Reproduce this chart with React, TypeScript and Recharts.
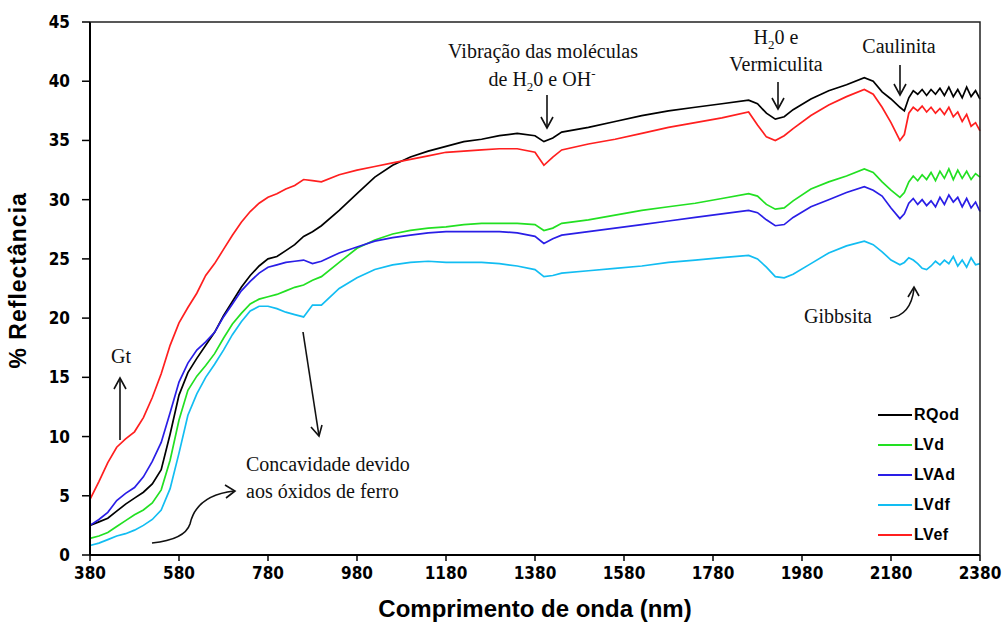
import { LineChart, Line, XAxis, YAxis } from "recharts";

document.body.style.margin = "0";

const wavelengths = [
  380, 400, 420, 440, 460, 480, 500, 520, 540, 560, 580, 600, 620, 640, 660, 680, 700, 720, 740, 760,
  780, 800, 820, 840, 860, 880, 900, 940, 980, 1020, 1060, 1100, 1140, 1180, 1220, 1260, 1300, 1340,
  1380, 1400, 1420, 1440, 1500, 1560, 1620, 1680, 1740, 1800, 1860, 1880, 1900, 1920, 1940, 1960,
  2000, 2040, 2080, 2120, 2140, 2160, 2180, 2200, 2210, 2220, 2230, 2240, 2250, 2260, 2270, 2280,
  2290, 2300, 2310, 2320, 2330, 2340, 2350, 2360, 2370, 2380,
];

const rqod = [
  2.5, 2.8, 3.1, 3.7, 4.3, 4.8, 5.3, 6.0, 7.2, 10.2, 13.5, 15.4, 16.6, 17.7, 18.8, 20.2, 21.4, 22.6, 23.6, 24.4,
  25.0, 25.2, 25.7, 26.2, 26.9, 27.3, 27.8, 29.1, 30.5, 31.9, 32.9, 33.6, 34.1, 34.5, 34.9, 35.1, 35.4, 35.6,
  35.4, 34.9, 35.2, 35.7, 36.1, 36.6, 37.1, 37.5, 37.8, 38.1, 38.4, 38.1, 37.3, 36.8, 37.0, 37.6,
  38.5, 39.2, 39.7, 40.3, 40.0, 39.1, 38.5, 37.8, 37.5, 38.6, 39.2, 38.9, 39.3, 38.8, 39.3, 38.9,
  39.4, 38.8, 39.5, 38.7, 39.3, 38.6, 39.5, 38.7, 39.2, 38.5,
];

const lvd = [
  1.4, 1.6, 1.9, 2.4, 2.9, 3.4, 3.8, 4.4, 5.5, 8.0, 11.4, 13.9, 15.1, 16.0, 17.0, 18.3, 19.5, 20.4, 21.2, 21.6,
  21.8, 22.0, 22.3, 22.6, 22.8, 23.2, 23.5, 24.7, 25.9, 26.6, 27.1, 27.4, 27.6, 27.7, 27.9, 28.0, 28.0, 28.0,
  27.9, 27.4, 27.6, 28.0, 28.3, 28.7, 29.1, 29.4, 29.7, 30.1, 30.5, 30.3, 29.6, 29.2, 29.3, 29.9,
  30.9, 31.5, 32.0, 32.6, 32.3, 31.5, 30.8, 30.2, 30.6, 31.5, 32.0, 31.6, 32.1, 31.7, 32.3, 31.6,
  32.4, 31.8, 32.6, 31.7, 32.5, 31.8, 32.4, 31.7, 32.2, 31.9,
];

const lvad = [
  2.5, 3.0, 3.6, 4.6, 5.2, 5.7, 6.6, 7.9, 9.5, 12.0, 14.6, 16.2, 17.3, 18.0, 18.8, 20.1, 21.2, 22.3, 23.1, 23.8,
  24.3, 24.5, 24.7, 24.8, 24.9, 24.6, 24.8, 25.5, 26.0, 26.5, 26.8, 27.0, 27.2, 27.3, 27.3, 27.3, 27.3, 27.2,
  26.9, 26.3, 26.7, 27.0, 27.3, 27.6, 27.9, 28.2, 28.5, 28.8, 29.1, 28.9, 28.3, 27.8, 27.9, 28.5,
  29.4, 30.0, 30.6, 31.1, 30.8, 30.3, 29.3, 28.4, 28.8, 29.7, 30.1, 29.6, 30.0, 29.5, 29.9, 29.4,
  30.2, 29.6, 30.4, 29.8, 30.2, 29.4, 30.1, 29.3, 29.8, 29.0,
];

const lvdf = [
  0.8, 1.0, 1.3, 1.6, 1.8, 2.1, 2.5, 3.0, 3.8, 5.6, 8.6, 11.8, 13.6, 15.0, 16.1, 17.3, 18.6, 19.7, 20.6, 21.0,
  21.0, 20.8, 20.5, 20.3, 20.1, 21.1, 21.1, 22.5, 23.4, 24.1, 24.5, 24.7, 24.8, 24.7, 24.7, 24.7, 24.6, 24.4,
  24.1, 23.5, 23.6, 23.8, 24.0, 24.2, 24.4, 24.7, 24.9, 25.1, 25.3, 25.0, 24.3, 23.5, 23.4, 23.7,
  24.6, 25.5, 26.1, 26.5, 26.2, 25.6, 24.9, 24.5, 24.7, 25.1, 24.9, 24.6, 24.2, 24.1, 24.4, 24.8,
  24.5, 24.9, 24.6, 25.2, 24.4, 24.9, 24.3, 25.1, 24.5, 24.6,
];

const lvef = [
  4.7, 6.2, 7.8, 9.1, 9.8, 10.4, 11.6, 13.3, 15.3, 17.7, 19.6, 20.9, 22.1, 23.6, 24.6, 25.8, 27.0, 28.1, 29.0, 29.7,
  30.2, 30.5, 30.9, 31.2, 31.7, 31.6, 31.5, 32.1, 32.5, 32.8, 33.1, 33.4, 33.7, 34.0, 34.1, 34.2, 34.3, 34.3,
  34.0, 32.9, 33.6, 34.2, 34.7, 35.1, 35.6, 36.1, 36.5, 36.9, 37.4, 36.3, 35.3, 35.0, 35.4, 36.0,
  37.1, 38.0, 38.7, 39.3, 38.9, 37.8, 36.5, 35.0, 35.5, 37.3, 37.8, 37.5, 37.9, 37.4, 37.8, 37.3,
  37.7, 37.2, 37.8, 37.0, 37.4, 36.6, 37.2, 36.2, 36.5, 35.8,
];

const xTicks = [380, 580, 780, 980, 1180, 1380, 1580, 1780, 1980, 2180, 2380];
const yTicks = [0, 5, 10, 15, 20, 25, 30, 35, 40, 45];

const series = [
  { key: "RQod", color: "#000000" },
  { key: "LVd", color: "#22e022" },
  { key: "LVAd", color: "#2a1ee6" },
  { key: "LVdf", color: "#12bdf2" },
  { key: "LVef", color: "#ff1f1f" },
];

const data = wavelengths.map((w, i) => ({
  nm: w,
  RQod: rqod[i],
  LVd: lvd[i],
  LVAd: lvad[i],
  LVdf: lvdf[i],
  LVef: lvef[i],
}));

const tickStyle = {
  fill: "#000",
  fontSize: 17,
  fontWeight: 700,
  fontFamily: "'Liberation Sans Narrow', 'DejaVu Sans Condensed', Arial, sans-serif",
};

const sans = "'Liberation Sans', Arial, sans-serif";
const serif = "'Liberation Serif', 'DejaVu Serif', serif";

const LegendBox = () => (
  <div
    style={{
      position: "absolute",
      left: 878,
      top: 400,
      fontFamily: sans,
      fontWeight: 700,
      fontSize: 16,
      color: "#000",
    }}
  >
    {series.map((s) => (
      <div key={s.key} style={{ display: "flex", alignItems: "center", height: 30 }}>
        <span style={{ display: "inline-block", width: 34, height: 2, background: s.color }} />
        <span style={{ marginLeft: 2, letterSpacing: 0.5 }}>{s.key}</span>
      </div>
    ))}
  </div>
);

function Arrow({ d, head }: { d: string; head: string }) {
  return (
    <g fill="none" stroke="#111" strokeWidth={1.6}>
      <path d={d} />
      <path d={head} />
    </g>
  );
}

export default function App() {
  return (
    <div style={{ position: "relative", width: 1008, height: 626, background: "#fff" }}>
      <LineChart width={1008} height={626} data={data} margin={{ top: 22, right: 28, bottom: 21, left: 40 }}>
        <XAxis
          dataKey="nm"
          type="number"
          domain={[380, 2380]}
          ticks={xTicks}
          interval={0}
          height={50}
          tick={tickStyle}
          tickSize={6}
          tickMargin={6}
          axisLine={{ stroke: "#000", strokeWidth: 2 }}
          tickLine={{ stroke: "#000", strokeWidth: 1.5 }}
          label={{
            value: "Comprimento de onda (nm)",
            position: "insideBottom",
            offset: -12,
            style: { fill: "#000", fontSize: 24, fontWeight: 700, fontFamily: sans },
          }}
        />
        <YAxis
          type="number"
          domain={[0, 45]}
          ticks={yTicks}
          interval={0}
          width={50}
          tick={tickStyle}
          tickSize={8}
          tickMargin={12}
          axisLine={{ stroke: "#000", strokeWidth: 2 }}
          tickLine={{ stroke: "#000", strokeWidth: 1.5 }}
          label={{
            value: "% Reflectância",
            angle: -90,
            position: "insideLeft",
            dx: -27,
            dy: 80,
            style: { fill: "#000", fontSize: 23, fontWeight: 700, letterSpacing: 1, fontFamily: sans },
          }}
        />
        {series.map((s) => (
          <Line
            key={s.key}
            type="linear"
            dataKey={s.key}
            stroke={s.color}
            strokeWidth={1.7}
            dot={false}
            isAnimationActive={false}
          />
        ))}
      </LineChart>

      <LegendBox />

      <svg
        width={1008}
        height={626}
        style={{ position: "absolute", left: 0, top: 0, pointerEvents: "none" }}
      >
        {/* moldura superior e direita */}
        <path d="M90,22 L980,22 L980,555" fill="none" stroke="#222" strokeWidth={1.5} />

        <g fontFamily={serif} fontSize={20} fill="#111" textAnchor="middle">
          <text x={543} y={58}>Vibração  das moléculas</text>
          <text x={542} y={86}>
            de H<tspan fontSize={13} dy={5}>2</tspan>
            <tspan dy={-5}>0 e OH</tspan>
            <tspan fontSize={13} dy={-8}>-</tspan>
          </text>
          <text x={776} y={44}>
            H<tspan fontSize={13} dy={5}>2</tspan>
            <tspan dy={-5}>0 e</tspan>
          </text>
          <text x={776} y={71}>Vermiculita</text>
          <text x={899} y={53}>Caulinita</text>
          <text x={121} y={363}>Gt</text>
          <text x={838} y={323}>Gibbsita</text>
          <text x={246} y={471} textAnchor="start">Concavidade devido</text>
          <text x={246} y={498} textAnchor="start">aos óxidos de ferro</text>
        </g>

        <Arrow d="M547,95 L547,128" head="M541,117 L547,128 L553,117" />
        <Arrow d="M778,82 L778,109" head="M772,98 L778,109 L784,98" />
        <Arrow d="M900,65 L900,95" head="M894,84 L900,95 L906,84" />
        <Arrow d="M120,440 L120,378" head="M114,389 L120,378 L126,389" />
        <Arrow d="M303,332 L319,436" head="M311,427 L319,436 L322,425" />
        <Arrow
          d="M152,543 C172,541 186,536 190,524 C194,506 208,494 234,491"
          head="M225,485 L235,491 L226,498"
        />
        <Arrow d="M890,318 C905,316 912,305 914,289" head="M908,297 L914,287 L919,296" />
      </svg>
    </div>
  );
}
